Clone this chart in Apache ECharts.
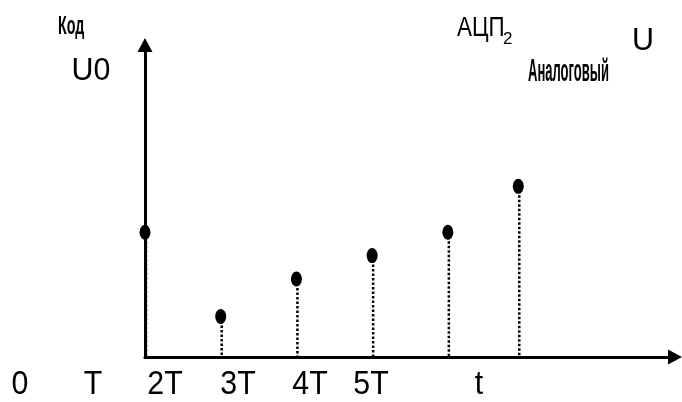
<!DOCTYPE html>
<html>
<head>
<meta charset="utf-8">
<script src="https://cdn.jsdelivr.net/npm/echarts@6/dist/echarts.min.js"></script>
<style>html,body{margin:0;padding:0;background:#fff}#c{width:682px;height:402px}</style>
</head>
<body>
<div id="c"></div>
<script>
// Data (time in units of T, value in arbitrary units)
const sampleTimes = [0, 1, 2, 3, 4, 4.93];
const sampleValues = [4.0, 1.3, 2.5, 3.25, 4.0, 5.47];
const tickLabels = ['0', 'T', '2T', '3T', '4T', '5T', 't'];
const yLabel = 'U0';
const codeLabel = 'Код';
const adcLabel = 'АЦП';
const adcSub = '2';
const uLabel = 'U';
const analogLabel = 'Аналоговый';

// layout for free-placed tick labels (pixel centres)
const tickLabelX = [20, 93, 165, 238, 310, 371, 479];

const FONT = '"Liberation Sans", Arial, sans-serif';
const points = sampleTimes.map((t, i) => [t, sampleValues[i]]);

function txt(text, x, y, size, opts) {
  opts = opts || {};
  const align = opts.align || 'center';
  const weight = opts.bold ? 'bold ' : '';
  return {
    type: 'text', x: x, y: y, scaleX: opts.scaleX || 1, z: 10,
    style: {
      text: text, x: 0, y: 0, fill: '#000',
      font: weight + size + 'px ' + FONT, fontSize: size, fontFamily: FONT,
      fontWeight: opts.bold ? 'bold' : 'normal',
      align: align, textAlign: align,
      verticalAlign: 'middle', textVerticalAlign: 'middle'
    }
  };
}

const graphics = tickLabels.map((l, i) => txt(l, tickLabelX[i], 385, 33, {scaleX: 0.92}));
graphics.push(txt(yLabel, 91, 71, 32, {scaleX: 0.95}));
graphics.push(txt(uLabel, 643, 41, 32, {scaleX: 0.95}));
graphics.push(txt(codeLabel, 58, 27, 26, {align: 'left', scaleX: 0.55, bold: true}));
graphics.push(txt(adcLabel, 457, 28, 28, {align: 'left', scaleX: 0.8}));
graphics.push(txt(adcSub, 503, 39, 17, {align: 'left'}));
graphics.push(txt(analogLabel, 528, 72, 31, {align: 'left', scaleX: 0.42, bold: true}));

const chart = echarts.init(document.getElementById('c'), null, {renderer: 'canvas'});
const axisCommon = {
  type: 'value',
  splitLine: {show: false},
  axisTick: {show: false},
  axisLabel: {show: false},
  axisLine: {
    show: true, onZero: false,
    symbol: ['none', 'triangle'], symbolSize: [15, 14],
    lineStyle: {color: '#000', width: 3}
  }
};
chart.setOption({
  animation: false,
  backgroundColor: '#fff',
  grid: {left: 145, top: 45, width: 530, height: 312},
  xAxis: Object.assign({}, axisCommon, {min: 0, max: 7}),
  yAxis: Object.assign({}, axisCommon, {min: 0, max: 10}),
  graphic: graphics,
  series: [
    {
      type: 'custom',
      data: points,
      z: 2,
      renderItem: function (params, api) {
        const p = api.coord([api.value(0), api.value(1)]);
        const b = api.coord([api.value(0), 0]);
        return {
          type: 'line',
          shape: {x1: p[0] + 1, y1: p[1], x2: b[0] + 1, y2: b[1]},
          style: {stroke: '#000', lineWidth: 2.5, lineDash: [2.5, 2]}
        };
      }
    },
    {
      type: 'scatter',
      data: points,
      z: 5,
      symbol: 'circle',
      symbolSize: [11, 15],
      itemStyle: {color: '#000', opacity: 1}
    }
  ]
});
</script>
</body>
</html>
